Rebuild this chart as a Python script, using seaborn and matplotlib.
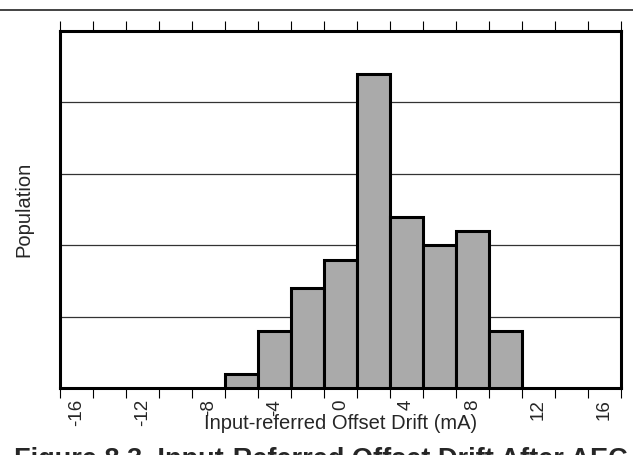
import numpy as np
import pandas as pd
import seaborn as sns
import matplotlib.pyplot as plt
from matplotlib.lines import Line2D

# histogram bins (bin centre, mA) and counts
categories = list(range(-16, 17, 2))
bins = [-6, -4, -2, 0, 2, 4, 6, 8, 10]
population = [1, 4, 7, 9, 22, 12, 10, 11, 4]
tick_labels = ["-16", "-12", "-8", "-4", "0", "4", "8", "12", "16"]

df = pd.DataFrame({"drift": bins, "population": population})

sns.set_theme(style="white")
plt.rcParams['font.family'] = ['Liberation Sans', 'DejaVu Sans']

fig = plt.figure(figsize=(6.33, 4.55), dpi=100)
ax = fig.add_axes([0.0948, 0.147, 0.886, 0.785])

sns.barplot(data=df, x="drift", y="population", order=categories,
            color="#aaaaaa", saturation=1, width=1,
            edgecolor="black", linewidth=2.2, ax=ax, zorder=3)

ax.set_xlim(-0.5, len(categories) - 0.5)
ax.set_ylim(0, 25)

# gridlines every 5 counts, no y labels
ax.set_yticks([5, 10, 15, 20])
ax.set_yticklabels([])
ax.tick_params(axis='y', length=0)
ax.yaxis.grid(True, color='#333333', linewidth=0.9)
ax.set_axisbelow(True)

# category boundaries as ticks, labels on every other category centre
ax.set_xticks(np.arange(-0.5, len(categories), 1))
ax.set_xticklabels([])
ax.set_xticks(np.arange(0, len(categories), 2), minor=True)
ax.set_xticklabels(tick_labels, minor=True, rotation=90, fontsize=13.5)
ax.tick_params(axis='x', which='major', direction='out', length=7.5,
               width=0.8, color='black', top=True, bottom=True)
ax.tick_params(axis='x', which='minor', length=0, pad=8)

for s in ax.spines.values():
    s.set_visible(True)
    s.set_color('black')
    s.set_linewidth(2.2)

ax.set_xlabel("Input-referred Offset Drift (mA)", fontsize=14.5)
ax.xaxis.set_label_coords(0.5, -0.072)
ax.set_ylabel("Population", fontsize=14.5)
ax.yaxis.set_label_coords(-0.048, 0.5)

fig.add_artist(Line2D([0, 1], [0.979, 0.979], transform=fig.transFigure,
                      color='#222222', linewidth=1.2))
fig.text(0.507, -0.027, "Figure 8.3. Input-Referred Offset Drift After AEC",
         ha='center', va='baseline', fontsize=19.5, fontweight='bold')

fig.savefig("out.png", dpi=100)
